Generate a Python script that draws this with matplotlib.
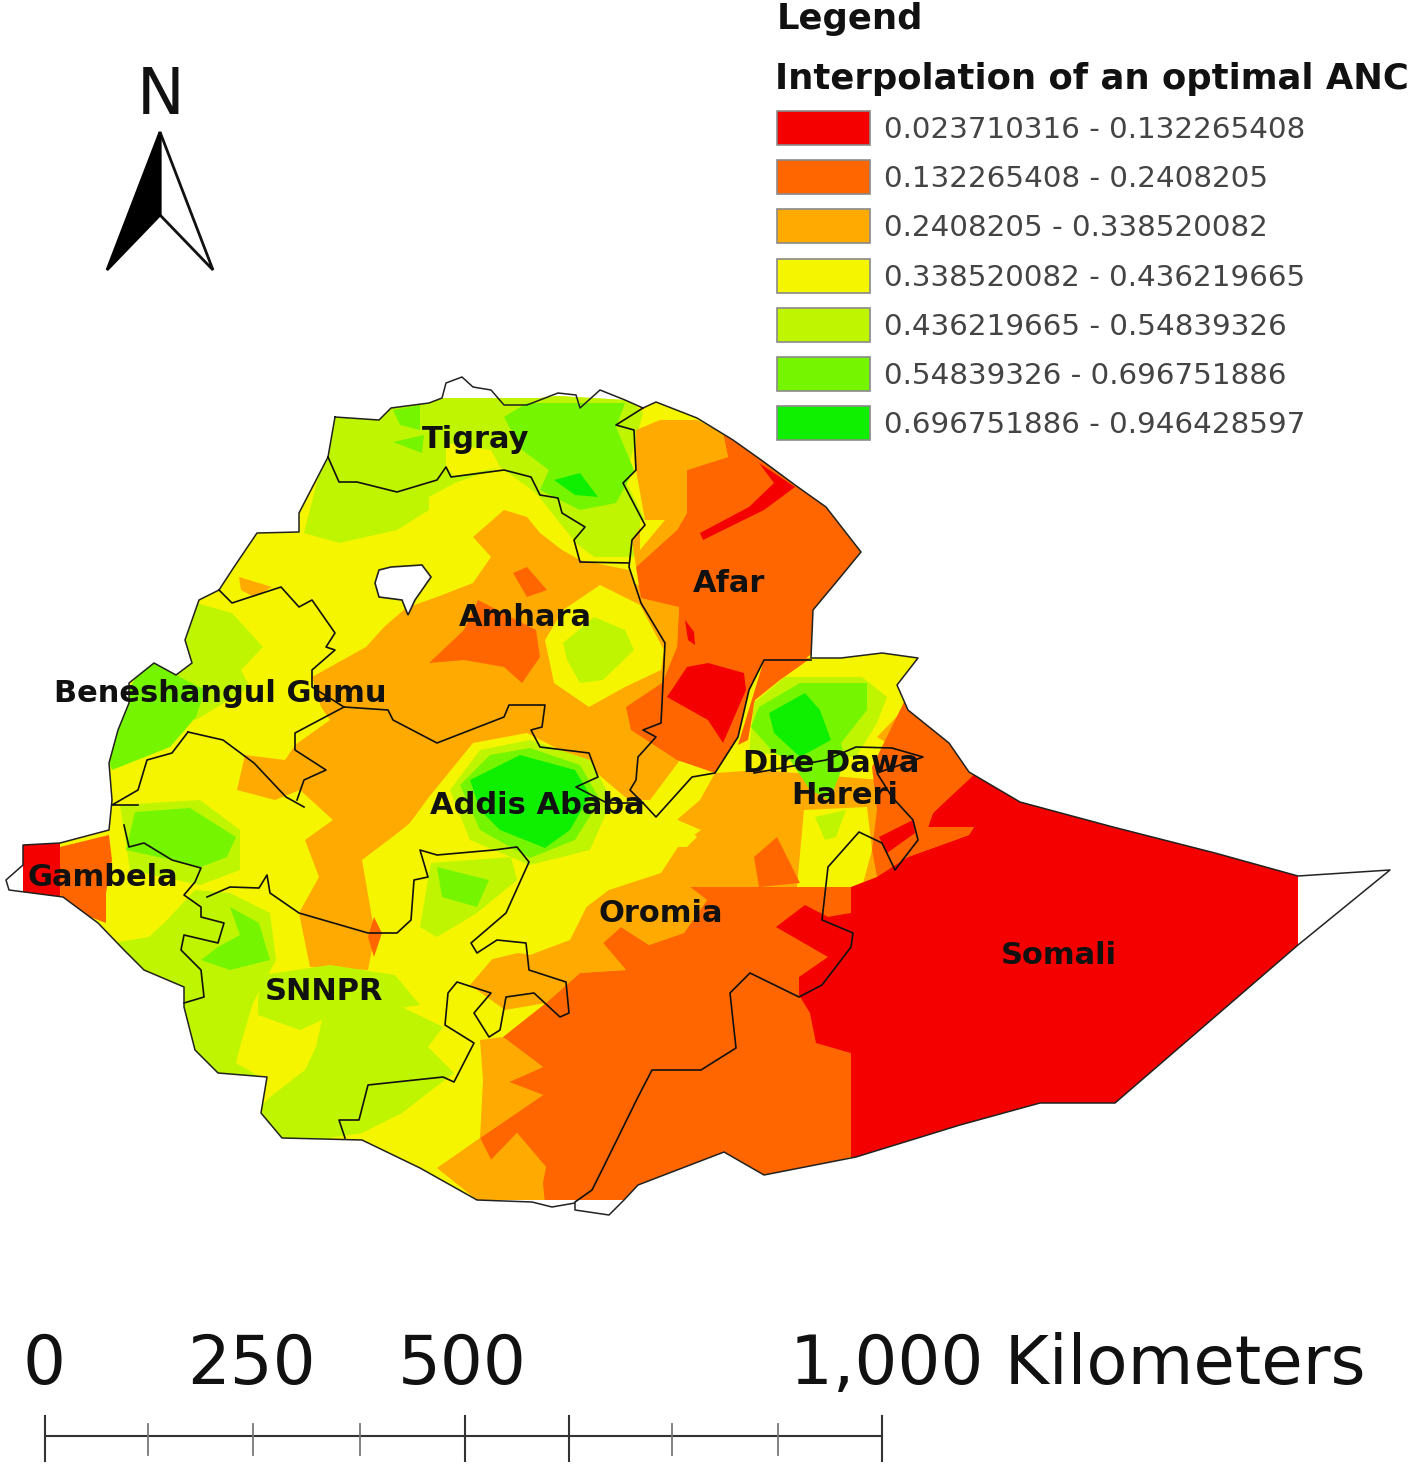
import matplotlib
matplotlib.use('Agg')
from matplotlib import pyplot as plt
from matplotlib.patches import Polygon, Rectangle

# all map shapes are traced in picture pixels (x, y from top left)
RED, ORANGE, AMBER, YELLOW, LIME, GREEN, BRIGHT = ('#F50000', '#FF6600', '#FFAA00', '#F5F500',
                                                   '#BFF500', '#76F500', '#0FF000')
legend_colors = [RED, ORANGE, AMBER, YELLOW, LIME, GREEN, BRIGHT]
legend_labels = ['0.023710316 - 0.132265408', '0.132265408 - 0.2408205', '0.2408205 - 0.338520082',
                 '0.338520082 - 0.436219665', '0.436219665 - 0.54839326', '0.54839326 - 0.696751886',
                 '0.696751886 - 0.946428597']

country = [(335, 417), (379, 420), (391, 408), (429, 403), (442, 398), (540, 398), (558, 396), (625, 400), (643, 408),
           (656, 402), (697, 418), (733, 440), (764, 462), (795, 485), (826, 507), (861, 552), (838, 580), (813, 610),
           (811, 658), (841, 658), (882, 653), (918, 658), (897, 685), (908, 710), (949, 743), (969, 772), (1020, 802),
           (1113, 827), (1215, 853), (1298, 876), (1298, 945), (1115, 1103), (1040, 1103), (960, 1125), (856, 1157),
           (764, 1175), (724, 1152), (638, 1185), (624, 1200), (477, 1200), (420, 1168), (362, 1140), (282, 1138),
           (261, 1113), (267, 1077), (218, 1073), (195, 1050), (184, 1007), (184, 987), (144, 970), (124, 950),
           (98, 923), (63, 897), (23, 892), (23, 845), (60, 843), (109, 830), (112, 800), (109, 763), (118, 730),
           (129, 703), (129, 683), (154, 663), (176, 675), (192, 663), (185, 640), (199, 600), (219, 590), (234, 567),
           (257, 533), (299, 532), (299, 513), (328, 457)]
hole = [(379, 570), (391, 567), (422, 565), (431, 577), (415, 600), (408, 615), (402, 600), (379, 597), (375, 583)]

north_lime = [(304, 533), (339, 543), (397, 530), (429, 510), (429, 497), (455, 483), (500, 467), (536, 493), (576, 543),
              (594, 557), (634, 557), (645, 520), (625, 480), (643, 413), (625, 395), (335, 395), (320, 470)]
tigray_yellow = [(446, 443), (491, 450), (500, 467), (455, 477), (446, 467)]
tigray_green = [(527, 403), (625, 403), (616, 427), (634, 470), (616, 503), (580, 510), (540, 490), (549, 470),
                (522, 450), (504, 417)]
tigray_bright = [(554, 480), (580, 473), (598, 497), (575, 495)]
tigray_green2 = [(393, 410), (420, 405), (420, 430), (400, 425)]
tigray_green3 = [(393, 442), (424, 435), (422, 453)]
west_lime = [(187, 637), (196, 603), (232, 613), (263, 647), (241, 670), (250, 687), (196, 720), (150, 700), (150, 650)]
west_green = [(140, 670), (154, 663), (176, 675), (205, 690), (196, 717), (170, 747), (112, 770), (100, 740)]
nw_amber = [(239, 577), (272, 587), (254, 597), (241, 590)]
gambela_lime = [(120, 805), (200, 800), (240, 830), (240, 870), (200, 885), (130, 870)]
gambela_green = [(135, 812), (190, 808), (236, 837), (227, 857), (201, 867), (172, 860), (126, 850)]
gambela_orange = [(60, 847), (109, 835), (112, 860), (106, 893), (106, 923), (85, 915), (60, 895)]
gambela_red = [(20, 840), (60, 840), (60, 897), (20, 897)]
snnpr_lime_w = [(100, 945), (149, 937), (167, 920), (195, 890), (230, 893), (270, 913), (276, 960), (253, 1003),
                (241, 1043), (236, 1063), (265, 1080), (200, 1090), (150, 1000)]
snnpr_lime_m = [(258, 1000), (262, 975), (330, 965), (395, 975), (420, 1005), (322, 1020), (300, 1030), (258, 1015)]
snnpr_lime_s = [(322, 1020), (402, 1007), (443, 1027), (428, 1047), (454, 1073), (402, 1113), (362, 1133), (282, 1145),
                (255, 1113), (270, 1097), (305, 1070), (316, 1047)]
snnpr_green = [(230, 907), (259, 923), (270, 960), (230, 970), (201, 960), (218, 947), (240, 935)]
north_oromia_lime = [(431, 863), (511, 857), (517, 880), (477, 913), (437, 937), (420, 927), (428, 880)]
north_oromia_green = [(437, 867), (489, 880), (477, 907), (442, 897)]

central_amber = [(384, 627), (406, 608), (437, 597), (473, 583), (491, 557), (473, 537), (504, 510), (527, 517),
                 (540, 533), (562, 550), (580, 560), (629, 570), (634, 583), (679, 607), (677, 647), (662, 683),
                 (680, 760), (650, 800), (430, 800), (420, 815), (395, 835), (362, 860), (375, 935), (368, 970),
                 (310, 967), (299, 913), (319, 877), (305, 840), (333, 820), (300, 790), (275, 800), (237, 790),
                 (245, 755), (285, 760), (295, 745), (330, 720), (321, 707), (312, 677), (366, 647)]
amhara_yellow = [(563, 610), (600, 585), (640, 605), (664, 650), (661, 670), (625, 687), (589, 707), (554, 683), (545, 640)]
amhara_lime = [(563, 643), (594, 617), (625, 630), (634, 650), (603, 680), (580, 683), (567, 660)]
amhara_orange = [(429, 663), (464, 630), (478, 600), (536, 630), (540, 657), (522, 683), (504, 667), (464, 660)]
amhara_orange2 = [(527, 567), (547, 590), (527, 597), (513, 573)]
addis_yellow = [(429, 797), (473, 743), (527, 733), (585, 763), (625, 797), (661, 813), (701, 830), (678, 847), (661, 873),
                (609, 890), (569, 920), (530, 950), (460, 967), (437, 987), (402, 970), (395, 900), (390, 850)]
addis_lime = [(450, 790), (480, 750), (530, 740), (590, 760), (612, 800), (590, 850), (530, 865), (470, 840)]
addis_green = [(460, 785), (490, 755), (530, 748), (580, 765), (600, 800), (575, 840), (530, 858), (480, 830)]
addis_bright = [(470, 780), (520, 755), (575, 770), (590, 795), (570, 830), (545, 848), (500, 830), (480, 810)]
small_orange = [(374, 917), (382, 933), (374, 957), (368, 937)]

east_amber = [(630, 860), (700, 800), (715, 773), (760, 770), (880, 780), (878, 887), (690, 887), (707, 900), (684, 933),
              (649, 945), (621, 927), (603, 943), (626, 970), (580, 973), (546, 1003), (505, 1010), (470, 985),
              (500, 950), (530, 955), (570, 940), (590, 900)]
east_yellow = [(804, 810), (867, 807), (872, 850), (862, 887), (797, 887)]
east_lime = [(815, 817), (846, 810), (836, 837), (825, 840)]
east_orange_spot = [(754, 857), (777, 837), (800, 883), (759, 887)]
oromia_yellow = [(667, 810), (697, 837), (687, 847), (667, 847)]
south_amber = [(480, 1040), (503, 1037), (543, 1067), (509, 1082), (543, 1095), (480, 1138), (491, 1160), (517, 1133),
               (546, 1167), (545, 1200), (477, 1200), (437, 1168), (480, 1138), (483, 1080)]
south_orange = [(690, 887), (851, 887), (851, 1157), (764, 1180), (624, 1205), (545, 1205), (543, 1183), (546, 1167),
                (517, 1133), (491, 1160), (480, 1138), (543, 1095), (509, 1082), (543, 1067), (503, 1037), (546, 1003),
                (580, 973), (626, 970), (603, 943), (621, 927), (649, 945), (684, 933), (707, 900)]
afar_amber = [(636, 430), (660, 420), (697, 420), (723, 433), (728, 457), (687, 470), (687, 513), (677, 530), (636, 567),
              (632, 540), (645, 520), (636, 470)]
afar_yellow = [(640, 520), (665, 520), (640, 550)]
afar_orange = [(723, 433), (760, 452), (800, 478), (835, 500), (870, 552), (815, 660), (764, 660), (749, 690), (738, 737),
               (715, 773), (677, 760), (631, 730), (626, 707), (662, 683), (677, 647), (679, 607), (641, 598), (636, 567),
               (677, 530), (687, 513), (687, 470), (728, 457)]
afar_red = [(759, 463), (795, 487), (764, 510), (703, 540), (700, 533), (749, 507), (774, 483)]
afar_red2 = [(687, 667), (708, 663), (744, 673), (746, 690), (723, 743), (708, 720), (667, 697)]
afar_red3 = [(685, 620), (694, 632), (695, 645), (688, 640)]
dire_yellow = [(780, 680), (810, 655), (920, 655), (897, 685), (908, 720), (890, 745), (870, 775), (760, 760), (745, 720),
               (755, 700)]
dire_orange = [(764, 660), (811, 658), (780, 680), (755, 700), (748, 740), (738, 745)]
dire_lime = [(754, 703), (785, 677), (862, 677), (887, 697), (877, 723), (856, 757), (749, 753)]
dire_green = [(759, 707), (800, 683), (867, 683), (867, 710), (841, 743), (845, 760), (830, 800), (810, 790), (790, 760),
              (774, 753), (751, 727)]
dire_bright = [(769, 713), (805, 693), (820, 710), (831, 740), (800, 757), (774, 733)]
dire_amber = [(903, 710), (908, 727), (887, 743), (877, 737)]
somali_orange = [(905, 700), (945, 730), (975, 775), (933, 813), (928, 827), (974, 827), (969, 835), (908, 857), (878, 882),
                 (872, 850), (877, 810), (872, 767)]
somali_red = [(977, 772), (1020, 798), (1300, 870), (1300, 948), (1115, 1105), (1040, 1105), (960, 1127), (851, 1160),
              (851, 1053), (816, 1043), (810, 1013), (799, 995), (799, 977), (828, 957), (776, 927), (805, 905), (828, 917),
              (851, 913), (851, 887), (877, 877), (908, 857), (969, 835), (974, 827), (928, 827), (933, 813)]
red_spot = [(913, 820), (915, 833), (887, 853), (879, 837)]

# painted in this order on a yellow base, later patches cover earlier ones
paint_order = [(LIME, north_lime), (YELLOW, tigray_yellow), (GREEN, tigray_green), (BRIGHT, tigray_bright),
               (GREEN, tigray_green2), (GREEN, tigray_green3), (AMBER, central_amber), (YELLOW, amhara_yellow),
               (LIME, amhara_lime), (ORANGE, amhara_orange), (ORANGE, amhara_orange2), (AMBER, nw_amber),
               (LIME, west_lime), (GREEN, west_green), (LIME, gambela_lime), (GREEN, gambela_green),
               (ORANGE, gambela_orange), (RED, gambela_red), (LIME, snnpr_lime_w), (LIME, snnpr_lime_m),
               (LIME, snnpr_lime_s), (GREEN, snnpr_green), (AMBER, east_amber), (YELLOW, addis_yellow),
               (LIME, addis_lime), (GREEN, addis_green), (BRIGHT, addis_bright), (ORANGE, small_orange),
               (LIME, north_oromia_lime), (GREEN, north_oromia_green), (YELLOW, oromia_yellow), (YELLOW, east_yellow),
               (LIME, east_lime), (ORANGE, east_orange_spot), (AMBER, south_amber), (ORANGE, south_orange),
               (AMBER, afar_amber), (YELLOW, afar_yellow), (ORANGE, afar_orange), (RED, afar_red), (RED, afar_red2),
               (RED, afar_red3), (YELLOW, dire_yellow), (ORANGE, dire_orange), (LIME, dire_lime), (GREEN, dire_green),
               (BRIGHT, dire_bright), (AMBER, dire_amber), (ORANGE, somali_orange), (RED, somali_red), (RED, red_spot)]

# region boundaries, the outer one runs past the raster in the north, east and south
outer_border = (country[:5]
                + [(446, 383), (462, 377), (473, 387), (491, 390), (504, 405), (527, 405), (558, 393), (576, 395), (580, 408),
                   (600, 390), (625, 400)]
                + country[8:30]
                + [(1390, 870)]
                + country[30:39]
                + [(609, 1215), (575, 1210), (575, 1203), (552, 1207), (532, 1202)]
                + country[39:53]
                + [(9, 890), (6, 880), (23, 865)]
                + country[54:]
                + country[:1])
border_lines = [
    [(328, 457), (339, 482), (357, 482), (397, 492), (437, 480), (446, 467), (451, 477), (504, 470), (531, 477), (540, 495),
     (558, 498), (562, 513), (585, 527), (574, 540), (580, 562), (629, 563)],
    [(643, 408), (616, 425), (634, 430), (636, 470), (623, 483), (645, 525), (632, 540), (629, 567), (641, 603), (665, 643),
     (661, 723), (643, 730), (656, 737), (638, 757), (636, 780), (630, 790), (643, 803)],
    [(219, 590), (232, 603), (281, 587), (299, 607), (312, 600), (335, 633), (326, 647), (335, 650), (312, 670), (312, 687),
     (344, 707)],
    [(344, 707), (388, 710), (393, 720), (437, 743), (504, 717), (509, 705), (545, 705), (542, 727), (531, 730), (540, 747),
     (589, 753), (598, 777), (576, 787), (607, 803), (643, 803)],
    [(344, 707), (295, 733), (295, 750), (326, 770), (304, 780), (297, 800)],
    [(188, 732), (223, 740), (254, 763), (286, 797), (304, 807)],
    [(188, 732), (172, 753), (147, 760), (138, 790), (112, 805), (138, 805)],
    [(124, 825), (129, 847), (144, 843), (172, 860), (201, 868), (195, 882), (184, 895), (201, 907), (201, 917), (224, 923),
     (218, 943), (184, 935), (181, 950), (201, 970), (204, 997), (184, 1003)],
    [(207, 897), (230, 887), (259, 888), (267, 875), (270, 893), (299, 913), (368, 933), (397, 933), (411, 920), (414, 880),
     (428, 877), (420, 850), (437, 855), (494, 850), (517, 847), (529, 862), (506, 913), (471, 943), (477, 953), (497, 940),
     (526, 943), (529, 970), (566, 982), (569, 1013), (560, 1017), (534, 993), (506, 997), (500, 1030), (489, 1037),
     (474, 1013), (491, 993), (457, 982), (448, 993), (445, 1025), (474, 1043), (454, 1082), (443, 1077), (368, 1085),
     (359, 1120), (339, 1120), (345, 1138)],
    [(575, 1202), (592, 1190), (603, 1168), (638, 1097), (652, 1070), (701, 1070), (736, 1048), (730, 993), (750, 973),
     (799, 997), (822, 985), (851, 947), (853, 933), (822, 920), (828, 867), (859, 832), (882, 843), (895, 870), (918, 840),
     (913, 820), (892, 797), (877, 773), (923, 757), (892, 748), (856, 747), (826, 760), (754, 773)],
    [(811, 660), (764, 660), (749, 690), (738, 737), (715, 773), (692, 777), (656, 817), (643, 803)],
]

region_names = ['Tigray', 'Afar', 'Amhara', 'Beneshangul Gumu', 'Dire Dawa', 'Hareri', 'Addis Ababa', 'Gambela', 'Oromia',
                'SNNPR', 'Somali']
region_x = [476, 729, 525, 220, 831, 845, 537, 103, 661, 324, 1059]
region_y = [439, 583, 617, 694, 764, 795, 806, 878, 914, 991, 956]

scale_labels = ['0', '250', '500', '1,000 Kilometers']
scale_label_x = [44, 251, 462, 790]
scale_ticks_long = [45, 465, 569, 882]
scale_ticks_short = [148, 253, 360, 672, 778]

fig = plt.figure(figsize=(14.18, 14.65), dpi=100)
ax = fig.add_axes([0, 0, 1, 1])
ax.set_xlim(0, 1418)
ax.set_ylim(1465, 0)
ax.axis('off')

base = Polygon(country, closed=True, fc=YELLOW, ec='none', zorder=1)
ax.add_patch(base)
for i, (color, pts) in enumerate(paint_order):
    p = Polygon(pts, closed=True, fc=color, ec='none', zorder=2 + i * 0.01)
    ax.add_patch(p)
    p.set_clip_path(base)

ax.add_patch(Polygon(hole, closed=True, fc='white', ec='#222222', lw=1.2, zorder=4))
xs, ys = zip(*outer_border)
ax.plot(xs, ys, color='#222222', lw=1.1, zorder=5)
for line in border_lines:
    xs, ys = zip(*line)
    ax.plot(xs, ys, color='#111111', lw=1.2, zorder=5)

for name, x, y in zip(region_names, region_x, region_y):
    ax.text(x, y, name, fontsize=22, fontweight='bold', color='#111111', ha='center', va='center', zorder=6)

# legend
ax.text(777, 19, 'Legend', fontsize=25.5, fontweight='bold', color='#111111', va='center')
ax.text(775, 79, 'Interpolation of an optimal ANC', fontsize=25.5, fontweight='bold', color='#111111', va='center')
for i, (color, label) in enumerate(zip(legend_colors, legend_labels)):
    y = 111 + i * 49.2
    ax.add_patch(Rectangle((777, y), 93, 34, fc=color, ec='#8a8a8a', lw=1.2))
    ax.text(884, y + 19, label, fontsize=21.2, color='#444444', va='center')

# north arrow
ax.text(161, 96, 'N', fontsize=46, color='#111111', ha='center', va='center')
ax.add_patch(Polygon([(160, 132), (213, 270), (160, 215)], closed=True, fc='white', ec='#111111', lw=2))
ax.add_patch(Polygon([(160, 132), (107, 270), (160, 215)], closed=True, fc='black', ec='black', lw=2))

# scale bar
for label, x in zip(scale_labels, scale_label_x):
    ha = 'left' if label.startswith('1') else 'center'
    ax.text(x, 1365, label, fontsize=48.5, color='#111111', ha=ha, va='center')
ax.plot([45, 882], [1436, 1436], color='#333333', lw=1.5)
for x in scale_ticks_long:
    ax.plot([x, x], [1416, 1461], color='#333333', lw=1.5)
for x in scale_ticks_short:
    ax.plot([x, x], [1424, 1455], color='#777777', lw=1.3)

plt.savefig('out.png', dpi=100)
